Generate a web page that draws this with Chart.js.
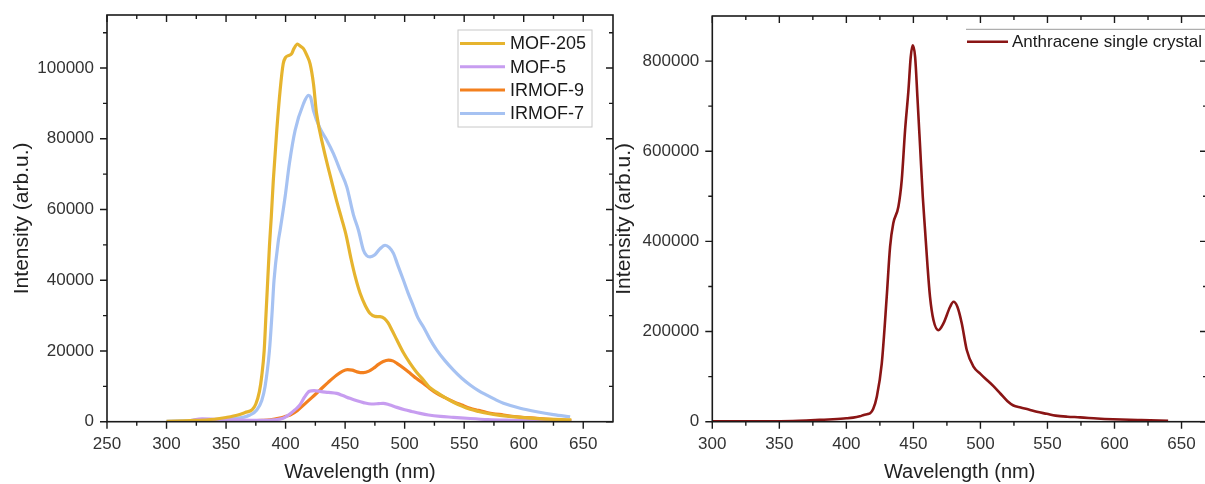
<!DOCTYPE html>
<html><head><meta charset="utf-8">
<script src="https://cdn.jsdelivr.net/npm/chart.js@4.4.1/dist/chart.umd.min.js"></script>
<style>
html,body{margin:0;padding:0;background:#fff;overflow:hidden;width:1205px;height:484px;}
#wrap{position:relative;width:1205px;height:484px;overflow:hidden;background:#fff;}
canvas{position:absolute;top:0;}
#c1{left:0;} #c2{left:600px;}
</style></head><body><div id="wrap"><canvas id="c1" width="620" height="484"></canvas><canvas id="c2" width="620" height="484"></canvas></div>
<script>
// ---------- Left panel data ----------
const mof205Wl = [300,320,340,350,360,366,372,375,378,380,382,383.5,385,386.5,388,389.7,392.6,395.4,398,400,403,405,407,410,412,415,418,420.6,423.4,426,431.6,437,442.8,447,451,455,458.5,462.6,467,471,475,479.4,483,486,489.5,493.5,499,504.6,510,515.8,521,527,534,541,548,555,562,569,580,597,615,640];
const mof205I  = [100,300,700,1200,1900,2600,3400,5000,8500,13000,20000,30000,40000,50000,58000,68300,82400,93700,101200,103000,103600,104000,105500,106800,106300,105500,103500,101200,95600,87200,77700,70200,62500,57500,52500,46000,41000,36300,32800,30600,29800,29700,29200,28000,25800,23100,19500,16500,14000,11800,9700,8300,6800,5500,4400,3500,2900,2400,1800,1200,800,500];

const mof5Wl = [320,330,340,350,360,370,380,390,398,403,408,412,416,420,424,430,436,443,448,454,460,465.4,472,478,482,487,493.5,500,506,513,520,530,541,555,570,590,610,640];
const mof5I  = [300,800,700,600,500,400,350,500,1000,2000,3400,4700,7000,8600,8800,8500,8300,8000,7400,6600,5900,5400,5000,5100,5200,4800,4050,3400,2900,2350,1900,1500,1250,900,600,400,250,100];

const irmof9Wl = [340,360,380,387,395,400,403.8,410,415,422,429,436,443,448,452,456,460,465.4,470,473.8,478,482,486.4,490,493.5,499,504.6,510,515.8,521,527,534,541,548,555,562,569,583,597,611,625,640];
const irmof9I  = [100,150,350,500,1000,1500,1900,3200,4700,6800,9000,11200,13200,14300,14700,14600,14100,13850,14300,15100,16200,17000,17400,17200,16500,15200,13700,12200,10800,9400,8000,6800,5650,4700,3800,3200,2600,1900,1300,950,600,300];

const irmof7Wl = [300,320,340,355,365,370,375.8,380,382.8,386.4,388.5,390.3,394,395.4,399.6,403.2,408,415,419.2,421,423.4,429,434.6,440.2,445.8,451.4,457,461.2,465.4,468,471,475,479,483.6,487,490.6,494,499,503,507.5,511,515.8,521,527,534,541,548,555,562,569,576,583,597,611,625,639];
const irmof7I  = [100,300,600,900,1300,1900,3300,6000,10000,20000,30000,40000,51300,54150,63600,73000,82400,89900,92300,91800,88000,82900,79600,75800,71100,66400,58500,54150,48500,47000,46600,47200,48800,49900,49300,47600,44500,40000,36300,32500,29500,26800,23500,20250,17200,14600,12300,10400,8800,7500,6300,5200,3800,2800,2000,1400];

const leftLabels = ['MOF-205','MOF-5','IRMOF-9','IRMOF-7'];
const leftXTicks = [250,300,350,400,450,500,550,600,650];
const leftXMinor = [275,325,375,425,475,525,575,625];
const leftYTicks = [0,20000,40000,60000,80000,100000];
const leftYMinor = [10000,30000,50000,70000,90000,110000];

// ---------- Right panel data ----------
const anthWl = [300,320,340,360,370,380,390,400,405,410,413,416,417.7,420,422.7,426.4,430.1,432.6,435,438.8,441.3,443.8,446.3,448,449.5,451.3,453,455,457,458.7,460.4,462.4,465,468.7,472.4,477.4,479.9,482.8,486.1,489.8,494.8,500,505,509.7,515,520,524.6,530,536,542,549.5,556,565,574.4,587,599,620,640];
const anthI  = [1000,1000,1000,1500,2500,4000,5500,7500,9000,12000,15000,17000,18600,28000,55400,129000,277000,388000,440000,477000,536000,647000,735000,809000,835000,809000,720000,610000,499000,425000,351000,277000,225000,203000,218000,255000,266000,255000,218000,159000,122000,106000,92000,79000,62000,46000,36000,31500,27000,22000,17500,13500,11000,9700,7000,5300,3500,2200];
const rightLabel = 'Anthracene single crystal';
const rightXTicks = [300,350,400,450,500,550,600,650];
const rightXMinor = [325,375,425,475,525,575,625];
const rightYTicks = [0,200000,400000,600000,800000];
const rightYMinor = [100000,300000,500000,700000];

const FONT = "'Liberation Sans', Arial, Helvetica, sans-serif";
Chart.defaults.font.family = FONT;

function pts(wl, I){ return wl.map((w,i)=>({x:w, y:I[i]})); }

function framePlugin(xMinor, yMinor){
  return {
    id:'frame',
    afterDraw(chart){
      const {ctx, chartArea:a, scales:{x,y}} = chart;
      ctx.save();
      ctx.strokeStyle = '#1a1a1a';
      ctx.lineWidth = 1.6;
      ctx.strokeRect(a.left, a.top, a.right-a.left, a.bottom-a.top);
      ctx.lineWidth = 1.4;
      const majX = x.ticks.map(t=>t.value), majY = y.ticks.map(t=>t.value);
      ctx.beginPath();
      const drawX = (v,len)=>{ const px = x.getPixelForValue(v);
        ctx.moveTo(px,a.bottom); ctx.lineTo(px,a.bottom+len);
        ctx.moveTo(px,a.top); ctx.lineTo(px,a.top+len); };
      const drawY = (v,len)=>{ const py = y.getPixelForValue(v);
        ctx.moveTo(a.left,py); ctx.lineTo(a.left-len,py);
        ctx.moveTo(a.right,py); ctx.lineTo(a.right-len,py); };
      majX.forEach(v=>drawX(v,7)); xMinor.forEach(v=>drawX(v,4));
      majY.forEach(v=>drawY(v,7)); yMinor.forEach(v=>drawY(v,4));
      ctx.stroke();
      ctx.restore();
    }
  };
}

function legendPlugin(cfg){
  return {
    id:'boxlegend',
    afterDraw(chart){
      const ctx = chart.ctx;
      ctx.save();
      if (cfg.box){
        ctx.strokeStyle = '#c8c8c8'; ctx.lineWidth = 1;
        ctx.strokeRect(cfg.box[0], cfg.box[1], cfg.box[2], cfg.box[3]);
      }
      if (cfg.topLine){
        ctx.strokeStyle = '#9a9a9a'; ctx.lineWidth = 1;
        ctx.beginPath(); ctx.moveTo(cfg.topLine[0], cfg.topLine[1]); ctx.lineTo(cfg.topLine[2], cfg.topLine[1]); ctx.stroke();
      }
      ctx.font = cfg.fontSize + 'px ' + FONT;
      ctx.textBaseline = 'middle';
      ctx.fillStyle = '#1a1a1a';
      chart.data.datasets.forEach((ds,i)=>{
        const yy = cfg.y0 + i*cfg.dy;
        ctx.strokeStyle = ds.borderColor; ctx.lineWidth = cfg.lw;
        ctx.beginPath(); ctx.moveTo(cfg.x0, yy); ctx.lineTo(cfg.x1, yy); ctx.stroke();
        ctx.fillText(ds.label, cfg.tx, yy+1);
      });
      ctx.restore();
    }
  };
}

function axisOpts(min, max, ticksArr, title, fit, isX, titlePad){
  return {
    type:'linear', min:min, max:max,
    afterBuildTicks: s => { s.ticks = ticksArr.map(v=>({value:v})); },
    afterFit: s => {
      if(isX) s.height = fit; else s.width = fit;
      s.paddingTop = 0; s.paddingBottom = 0; s.paddingLeft = 0; s.paddingRight = 0;
    },
    ticks:{ font:{size:17}, color:'#333', padding: isX ? 12 : 13, autoSkip:false, maxRotation:0,
            callback: v => String(v) },
    grid:{ display:false, drawTicks:false },
    border:{ display:false },
    title:{ display:true, text:title, color:'#222', font:{size: isX ? 20 : 21}, padding:titlePad }
  };
}

const lineDs = (label, data, color, w) => ({
  label, data, borderColor:color, backgroundColor:color, borderWidth:w,
  pointRadius:0, fill:false, tension:0.3, cubicInterpolationMode:'monotone'
});

new Chart(document.getElementById('c1'), {
  type:'line',
  data:{ datasets:[
    lineDs(leftLabels[0], pts(mof205Wl, mof205I), '#E6B42E', 3.2),
    lineDs(leftLabels[1], pts(mof5Wl, mof5I), '#C79DF0', 3.2),
    lineDs(leftLabels[2], pts(irmof9Wl, irmof9I), '#F3801E', 3.2),
    lineDs(leftLabels[3], pts(irmof7Wl, irmof7I), '#A6C2F2', 3.2)
  ]},
  options:{
    responsive:false, animation:false, devicePixelRatio:1,
    layout:{ padding:{ top:15, right:7, left:0, bottom:0 } },
    scales:{
      x: axisOpts(250, 675, leftXTicks, 'Wavelength (nm)', 62.3, true, {top:0,bottom:0}),
      y: axisOpts(0, 115000, leftYTicks, 'Intensity (arb.u.)', 107, false, {top:10,bottom:0})
    },
    plugins:{ legend:{display:false}, tooltip:{enabled:false} }
  },
  plugins:[ framePlugin(leftXMinor, leftYMinor),
    legendPlugin({box:[458,30,134,97], x0:460, x1:505, tx:510, y0:43.5, dy:23.3, fontSize:18, lw:3}) ]
});

new Chart(document.getElementById('c2'), {
  type:'line',
  data:{ datasets:[
    lineDs(rightLabel, pts(anthWl, anthI), '#8A1515', 2.6)
  ]},
  options:{
    responsive:false, animation:false, devicePixelRatio:1,
    layout:{ padding:{ top:16, right:13, left:0, bottom:0 } },
    scales:{
      x: axisOpts(300, 669, rightXTicks, 'Wavelength (nm)', 62.3, true, {top:0,bottom:0}),
      y: axisOpts(0, 900000, rightYTicks, 'Intensity (arb.u.)', 112.3, false, {top:12,bottom:0})
    },
    plugins:{ legend:{display:false}, tooltip:{enabled:false} }
  },
  plugins:[ framePlugin(rightXMinor, rightYMinor),
    legendPlugin({topLine:[366,29.3,620], x0:367, x1:408, tx:412, y0:41.7, dy:20, fontSize:17, lw:2.6}) ]
});
</script></body></html>
